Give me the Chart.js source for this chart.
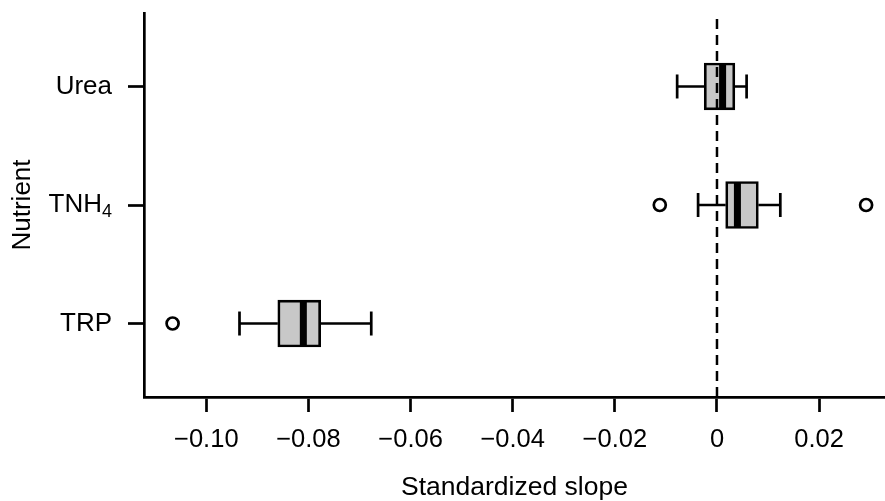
<!DOCTYPE html>
<html>
<head>
<meta charset="utf-8">
<title>Standardized slope by nutrient</title>
<script src="https://cdn.jsdelivr.net/npm/chart.js@4.4.1/dist/chart.umd.min.js"></script>
<style>
    html, body { margin: 0; padding: 0; background: #fff; }
    #wrap { width: 885px; height: 501px; position: relative; }
</style>
</head>
<body>
<div id="wrap"><canvas id="boxChart"></canvas></div>
<script>
// categories from bottom (1) to top (3); labelSub is drawn as a subscript
const categories = ['TRP', 'TNH', 'Urea'];
const labelSub = ['', '4', ''];
const catPos = [1, 2, 3];

const whiskerLow  = [-0.0935, -0.0037, -0.0078];
const q1          = [-0.0860,  0.0017, -0.0025];
const median      = [-0.0810,  0.0040,  0.0011];
const q3          = [-0.0776,  0.0081,  0.0035];
const whiskerHigh = [-0.0677,  0.0124,  0.0058];

// outliers as [category index, value]
const outliers = [[0, -0.1066], [1, -0.0112], [1, 0.0292]];

const xTicks = [-0.10, -0.08, -0.06, -0.04, -0.02, 0, 0.02];
const xMin = -0.1122, xMax = 0.0329;
const yMin = 0.38, yMax = 3.62;

const FONT = "'Liberation Sans', Arial, 'DejaVu Sans', sans-serif";
const LW = 2.7;
const Y_TICK_LEN = 16, Y_TICK_PAD = 16;

// y labels that need a subscript (TNH4) are drawn here, next to the normal ticks
const subscriptLabels = {
    id: 'subscriptLabels',
    afterDraw(chart) {
        const y = chart.scales.y;
        const c = chart.ctx;
        const xRight = y.right - Y_TICK_LEN - Y_TICK_PAD;
        c.save();
        c.fillStyle = '#000';
        c.textAlign = 'right';
        c.textBaseline = 'middle';
        catPos.forEach((pos, i) => {
            if (!labelSub[i]) return;
            const py = y.getPixelForValue(pos);
            c.font = '18px ' + FONT;
            const subW = c.measureText(labelSub[i]).width;
            c.fillText(labelSub[i], xRight, py + 7);
            c.font = '26px ' + FONT;
            c.fillText(categories[i], xRight - subW, py);
        });
        c.restore();
    }
};

document.addEventListener('DOMContentLoaded', () => {
    Chart.defaults.font.family = FONT;
    Chart.defaults.color = '#000';

    const gap = { x: null, y: null };
    const whiskerPts = [];
    const capPts = [];
    catPos.forEach((y, i) => {
        whiskerPts.push({ x: whiskerLow[i], y }, { x: q1[i], y }, gap);
        whiskerPts.push({ x: q3[i], y }, { x: whiskerHigh[i], y }, gap);
        capPts.push({ x: whiskerLow[i], y }, { x: whiskerHigh[i], y });
    });

    const fmtX = v => v === 0 ? '0' : (v < 0 ? '\u2212' : '') + Math.abs(v).toFixed(2);

    // keep the plot area where the reference has it
    const noPad = s => { s.paddingTop = 0; s.paddingBottom = 0; s.paddingLeft = 0; s.paddingRight = 0; };

    const ctx = document.getElementById('boxChart').getContext('2d');
    new Chart(ctx, {
        type: 'scatter',
        plugins: [subscriptLabels],
        data: {
            datasets: [
                {
                    // zero reference line
                    type: 'scatter',
                    showLine: true,
                    data: [{ x: 0, y: yMin }, { x: 0, y: yMax }],
                    borderColor: '#000',
                    borderWidth: 2.5,
                    borderDash: [10, 6],
                    pointRadius: 0,
                    order: 1
                },
                {
                    type: 'scatter',
                    data: outliers.map(o => ({ x: o[1], y: catPos[o[0]] })),
                    pointStyle: 'circle',
                    pointRadius: 6,
                    pointBorderWidth: LW,
                    pointBorderColor: '#000',
                    pointBackgroundColor: '#fff',
                    order: 2
                },
                {
                    // median bars
                    type: 'scatter',
                    data: catPos.map((y, i) => ({ x: median[i], y })),
                    pointStyle: 'line',
                    rotation: 90,
                    pointRadius: 23,
                    pointBorderWidth: 7,
                    pointBorderColor: '#000',
                    order: 3
                },
                {
                    // whisker caps
                    type: 'scatter',
                    data: capPts,
                    pointStyle: 'line',
                    rotation: 90,
                    pointRadius: 12,
                    pointBorderWidth: LW,
                    pointBorderColor: '#000',
                    order: 3
                },
                {
                    type: 'bar',
                    indexAxis: 'y',
                    data: catPos.map((y, i) => ({ x: [q1[i], q3[i]], y })),
                    backgroundColor: '#c8c8c8',
                    borderColor: '#000',
                    borderWidth: LW,
                    borderSkipped: false,
                    barThickness: 47,
                    order: 4
                },
                {
                    type: 'scatter',
                    showLine: true,
                    spanGaps: false,
                    data: whiskerPts,
                    borderColor: '#000',
                    borderWidth: LW,
                    pointRadius: 0,
                    order: 5
                }
            ]
        },
        options: {
            responsive: true,
            maintainAspectRatio: false,
            animation: false,
            events: [],
            layout: { autoPadding: false, padding: { top: 13, right: 0, bottom: 0, left: 0 } },
            plugins: {
                legend: { display: false },
                tooltip: { enabled: false }
            },
            scales: {
                x: {
                    type: 'linear',
                    position: 'bottom',
                    min: xMin,
                    max: xMax,
                    offset: false,
                    afterBuildTicks: s => { s.ticks = xTicks.map(v => ({ value: v })); },
                    afterFit: s => { s.height = 104; noPad(s); },
                    ticks: {
                        callback: v => fmtX(v),
                        font: { size: 25.5 },
                        padding: 13,
                        maxRotation: 0,
                        autoSkip: false
                    },
                    grid: {
                        offset: false,
                        drawOnChartArea: false,
                        drawTicks: true,
                        tickLength: 15,
                        tickWidth: LW,
                        tickColor: '#000'
                    },
                    border: { display: true, color: '#000', width: LW },
                    title: {
                        display: true,
                        text: 'Standardized slope',
                        font: { size: 26.5, lineHeight: 1 },
                        padding: { top: 0, bottom: 0 }
                    }
                },
                y: {
                    type: 'linear',
                    position: 'left',
                    min: yMin,
                    max: yMax,
                    offset: false,
                    afterBuildTicks: s => { s.ticks = catPos.map(v => ({ value: v })); },
                    afterFit: s => { s.width = 144; noPad(s); },
                    ticks: {
                        // subscripted labels are drawn by the plugin
                        callback: v => {
                            const i = catPos.indexOf(v);
                            return labelSub[i] ? '' : categories[i];
                        },
                        font: { size: 26 },
                        padding: Y_TICK_PAD,
                        autoSkip: false
                    },
                    grid: {
                        offset: false,
                        drawOnChartArea: false,
                        drawTicks: true,
                        tickLength: Y_TICK_LEN,
                        tickWidth: LW,
                        tickColor: '#000'
                    },
                    border: { display: true, color: '#000', width: LW },
                    title: {
                        display: true,
                        text: 'Nutrient',
                        font: { size: 26, lineHeight: 1 },
                        padding: { top: 10, bottom: 0 }
                    }
                }
            }
        }
    });
});
</script>
</body>
</html>
